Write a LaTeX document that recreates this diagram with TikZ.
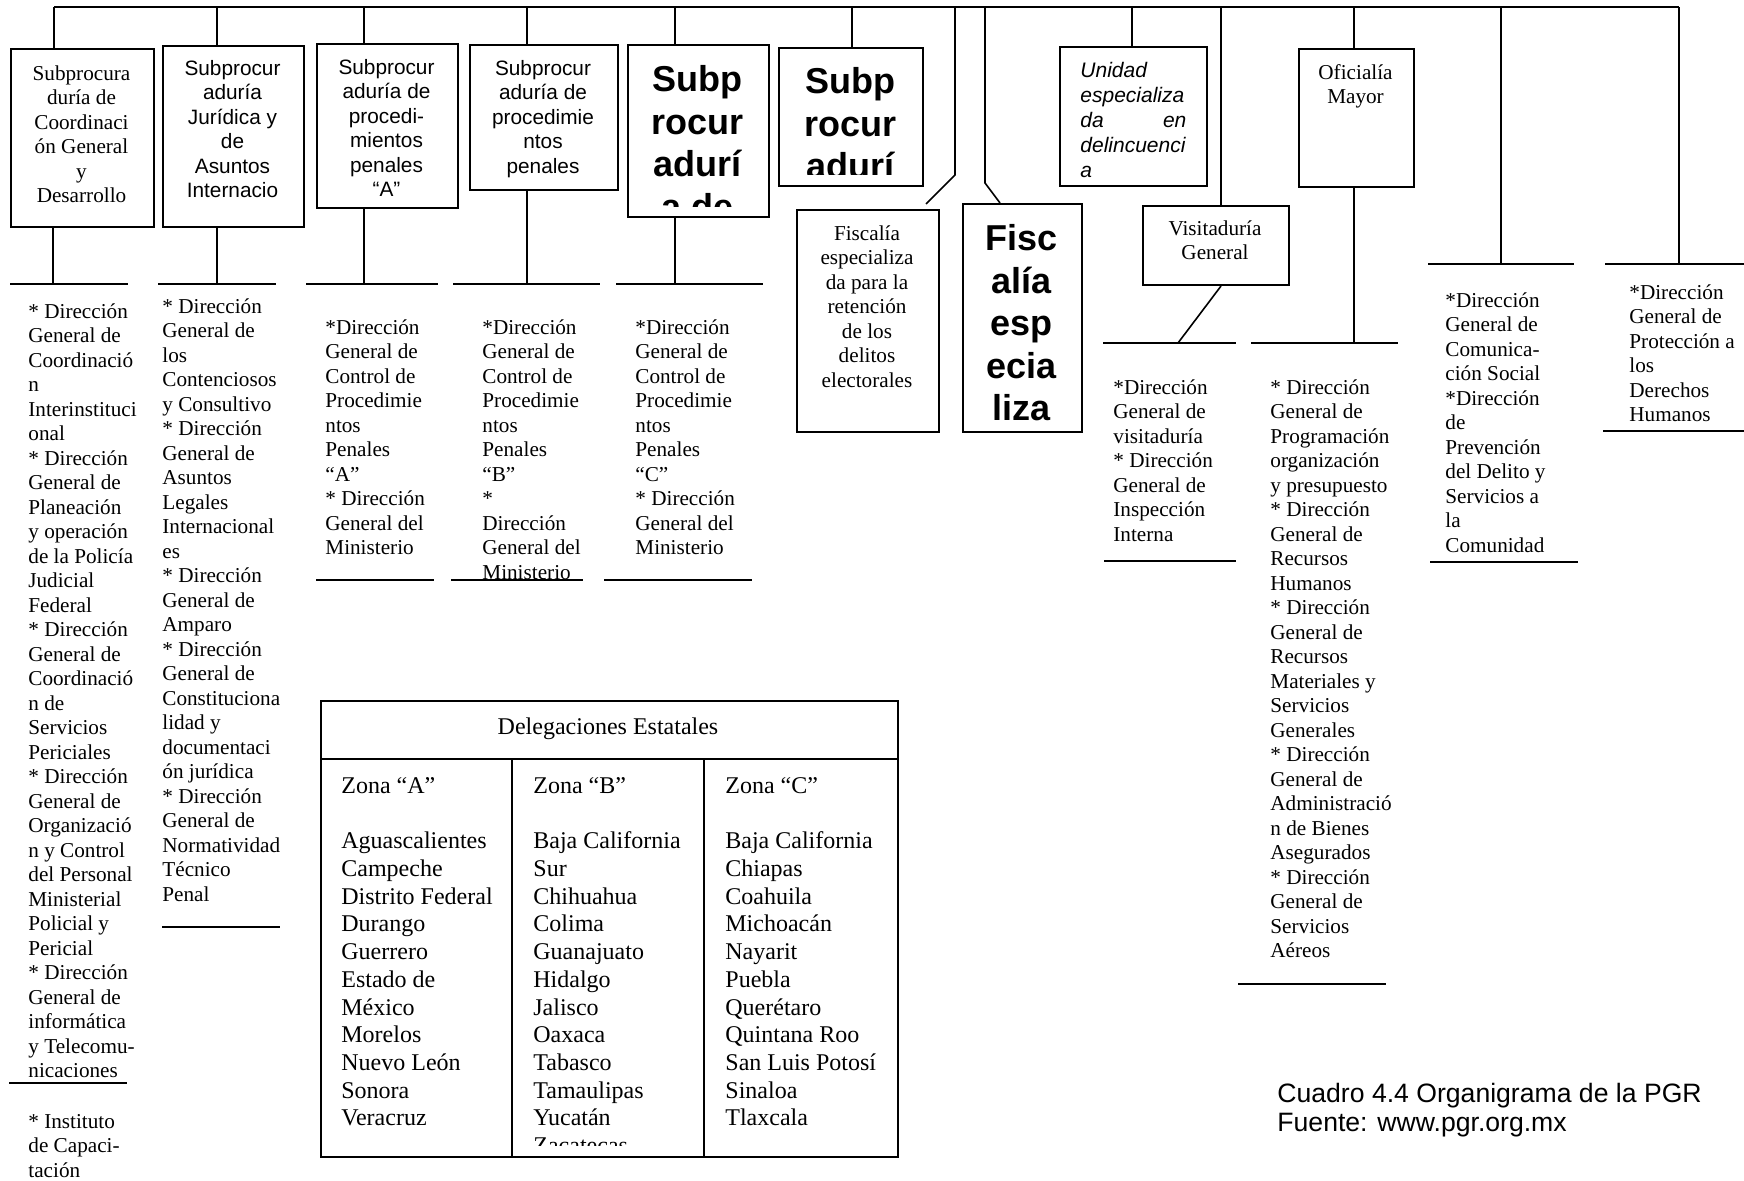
\documentclass[tikz,border=0pt]{standalone}
\usepackage{fontspec}
\setmainfont{Liberation Serif}
\setsansfont{Liberation Sans}

\tikzset{
  caja/.style={draw, line width=1pt, inner sep=0pt, anchor=north west},
  linea/.style={line width=1pt},
  diag/.style={line width=0.8pt},
  lista/.style={inner sep=0pt, anchor=north west, align=left, font=\fontsize{10.6}{12.25}\selectfont},
  rotulo/.style={inner sep=0pt, anchor=north, align=center, font=\fontsize{10.6}{12.25}\selectfont},
  rotulosf/.style={rotulo, font=\sffamily\fontsize{10.4}{12.25}\selectfont},
  grande/.style={inner sep=0pt, anchor=north, align=center, font=\sffamily\bfseries\fontsize{18}{21.3}\selectfont},
  zona/.style={inner sep=0pt, anchor=north west, align=left, font=\fontsize{12}{13.85}\selectfont},
}

\begin{document}
\begin{tikzpicture}[x=0.5pt, y=-0.5pt]
    \useasboundingbox (0,0) rectangle (1744,1180);

    % cajas
    \node[caja, minimum width=71.5pt, minimum height=89pt] (sub1) at (10,48) {};
    \node[caja, minimum width=70.5pt, minimum height=90.5pt] (sub2) at (162,45) {};
    \node[caja, minimum width=70.5pt, minimum height=82pt] (sub3) at (316,43) {};
    \node[caja, minimum width=74pt, minimum height=72.5pt] (sub4) at (469,44) {};
    \node[caja, minimum width=70.5pt, minimum height=86pt] (sub5) at (627,44) {};
    \node[caja, minimum width=72pt, minimum height=69pt] (sub6) at (778,47) {};
    \node[caja, minimum width=71pt, minimum height=111pt] (fisE) at (796,209) {};
    \node[caja, minimum width=59.5pt, minimum height=114pt] (fisD) at (962,203) {};
    \node[caja, minimum width=73.5pt, minimum height=69.5pt] (udo) at (1059,46) {};
    \node[caja, minimum width=73pt, minimum height=39.5pt] (vis) at (1142,205) {};
    \node[caja, minimum width=57.5pt, minimum height=69pt] (om) at (1298,48) {};

    \node[rotulo] (sub1t) at (81.5,65) {Subprocura\\duría de\\Coordinaci\\ón General\\y\\Desarrollo};
    \node[rotulosf] (sub2t) at (232.5,60) {Subprocur\\aduría\\Jurídica y\\de\\Asuntos\\Internacio};
    \node[rotulosf] (sub3t) at (386.5,59) {Subprocur\\aduría de\\procedi-\\mientos\\penales\\“A”};
    \node[rotulosf] (sub4t) at (543,60) {Subprocur\\aduría de\\procedimie\\ntos\\penales};
    \begin{scope}
      \clip (627,44) rectangle (768,206);
      \node[grande] (sub5t) at (697.5,65) {Subp\\rocur\\adurí\\a de};
    \end{scope}
    \begin{scope}
      \clip (778,47) rectangle (922,174);
      \node[grande] (sub6t) at (850,67) {Subp\\rocur\\adurí};
    \end{scope}
    \node[rotulo] (fisEt) at (867,225) {Fiscalía\\especializa\\da para la\\retención\\de los\\delitos\\electorales};
    \node[grande] (fisDt) at (1021.5,224) {Fisc\\alía\\esp\\ecia\\liza};
    \node[inner sep=0pt, anchor=north west, align=left, font=\sffamily\itshape\fontsize{10.5}{12.5}\selectfont] (udot) at (1080,62)
      {Unidad\\especializa\\\makebox[53pt][s]{da\hfill en}\\delincuenci\\a};
    \node[rotulo] (vist) at (1215,220) {Visitaduría\\General};
    \node[rotulo] (omt) at (1355.5,64) {Oficialía\\Mayor};

    % conectores
    \coordinate (ti) at (54,7);
    \coordinate (tf) at (1679,7);
    \draw[linea] (ti) -- (tf);
    \foreach \n/\x in {sub1/54, sub2/217, sub3/364, sub4/527, sub5/675, sub6/852, udo/1132, vis/1221, om/1354} {
      \coordinate (t\n) at (\x,7);
      \draw[linea] (t\n) -- (t\n |- \n.north);
    }
    \foreach \n/\x/\y in {sub1/53/284, sub2/217/284, sub3/364/284, sub4/527/284, sub5/675/284, om/1354/343} {
      \coordinate (d\n) at (\x,\y);
      \draw[linea] (\n.south -| d\n) -- (d\n);
    }
    \coordinate (dvis) at (1178,343);
    \draw[diag] (vis.south -| tvis) -- (dvis);
    \coordinate (tfisE) at (955,7);
    \coordinate (kfisE) at (926,204);
    \draw[diag] (tfisE) -- (955,175) -- (kfisE);
    \coordinate (tfisD) at (985,7);
    \coordinate (kfisD) at (1000,203);
    \draw[diag] (tfisD) -- (985,183) -- (kfisD);
    \coordinate (tcs) at (1501,7);
    \coordinate (dcs) at (1501,264);
    \draw[linea] (tcs) -- (dcs);
    \coordinate (tdh) at (1679,7);
    \coordinate (ddh) at (1679,264);
    \draw[linea] (tdh) -- (ddh);

    \foreach \xa/\xb/\y in {10/128/284, 158/276/284, 306/438/284, 453/600/284, 616/763/284,
        1103/1236/343, 1251/1398/343, 1428/1574/264, 1605/1744/264,
        9/127/1083, 162/280/927, 316/434/580, 451/583/580, 604/752/580,
        1104/1236/561, 1238/1386/984, 1430/1578/562, 1603/1744/431}
      \draw[linea] (\xa,\y) -- (\xb,\y);

    % direcciones generales
    \node[lista] (l1) at (28,303) {{*} Dirección\\General de\\Coordinació\\n\\Interinstituci\\onal\\{*} Dirección\\General de\\Planeación\\y operación\\de la Policía\\Judicial\\Federal\\{*} Dirección\\General de\\Coordinació\\n de\\Servicios\\Periciales\\{*} Dirección\\General de\\Organizació\\n y Control\\del Personal\\Ministerial\\Policial y\\Pericial\\{*} Dirección\\General de\\informática\\y Telecomu-\\nicaciones};
    \node[lista] (l1b) at (28,1114) {{*} Instituto\\de Capaci-\\tación};
    \node[lista] (l2) at (162,298) {{*} Dirección\\General de\\los\\Contenciosos\\y Consultivo\\{*} Dirección\\General de\\Asuntos\\Legales\\Internacional\\es\\{*} Dirección\\General de\\Amparo\\{*} Dirección\\General de\\Constituciona\\lidad y\\documentaci\\ón jurídica\\{*} Dirección\\General de\\Normatividad\\Técnico\\Penal};
    \node[lista] (l3) at (325,319) {{*}Dirección\\General de\\Control de\\Procedimie\\ntos\\Penales\\“A”\\{*} Dirección\\General del\\Ministerio};
    \node[lista] (l4) at (482,319) {{*}Dirección\\General de\\Control de\\Procedimie\\ntos\\Penales\\“B”\\{*}\\Dirección\\General del\\Ministerio};
    \node[lista] (l5) at (635,319) {{*}Dirección\\General de\\Control de\\Procedimie\\ntos\\Penales\\“C”\\{*} Dirección\\General del\\Ministerio};
    \node[lista] (l6) at (1113,379) {{*}Dirección\\General de\\visitaduría\\{*} Dirección\\General de\\Inspección\\Interna};
    \node[lista] (l7) at (1270,379) {{*} Dirección\\General de\\Programación\\organización\\y presupuesto\\{*} Dirección\\General de\\Recursos\\Humanos\\{*} Dirección\\General de\\Recursos\\Materiales y\\Servicios\\Generales\\{*} Dirección\\General de\\Administració\\n de Bienes\\Asegurados\\{*} Dirección\\General de\\Servicios\\Aéreos};
    \node[lista] (l8) at (1445,292) {{*}Dirección\\General de\\Comunica-\\ción Social\\{*}Dirección\\de\\Prevención\\del Delito y\\Servicios a\\la\\Comunidad};
    \node[lista] (l9) at (1629,284) {{*}Dirección\\General de\\Protección a\\los\\Derechos\\Humanos};

    % delegaciones
    \node[caja, minimum width=288.5pt, minimum height=228pt] (deleg) at (320,700) {};
    \node[inner sep=0pt, font=\fontsize{12}{13.85}\selectfont] (delegt) at (608,729) {Delegaciones Estatales};
    \draw[linea] (320,759) -- (897,759);
    \draw[linea] (512,759) -- (512,1156);
    \draw[linea] (704,759) -- (704,1156);
    \node[zona] (zonaA) at (341,777) {Zona “A”\\[13.85pt]Aguascalientes\\Campeche\\Distrito Federal\\Durango\\Guerrero\\Estado de\\México\\Morelos\\Nuevo León\\Sonora\\Veracruz};
    \begin{scope}
      \clip (512,759) rectangle (704,1145);
      \node[zona] (zonaB) at (533,777) {Zona “B”\\[13.85pt]Baja California\\Sur\\Chihuahua\\Colima\\Guanajuato\\Hidalgo\\Jalisco\\Oaxaca\\Tabasco\\Tamaulipas\\Yucatán\\Zacatecas};
    \end{scope}
    \node[zona] (zonaC) at (725,777) {Zona “C”\\[13.85pt]Baja California\\Chiapas\\Coahuila\\Michoacán\\Nayarit\\Puebla\\Querétaro\\Quintana Roo\\San Luis Potosí\\Sinaloa\\Tlaxcala};

    \node[inner sep=0pt, anchor=north west, align=left, font=\sffamily\fontsize{13.3}{14.5}\selectfont] (cuadro) at (1277,1083)
      {Cuadro 4.4 Organigrama de la PGR\\Fuente: www.pgr.org.mx};
  \end{tikzpicture}
\end{document}
